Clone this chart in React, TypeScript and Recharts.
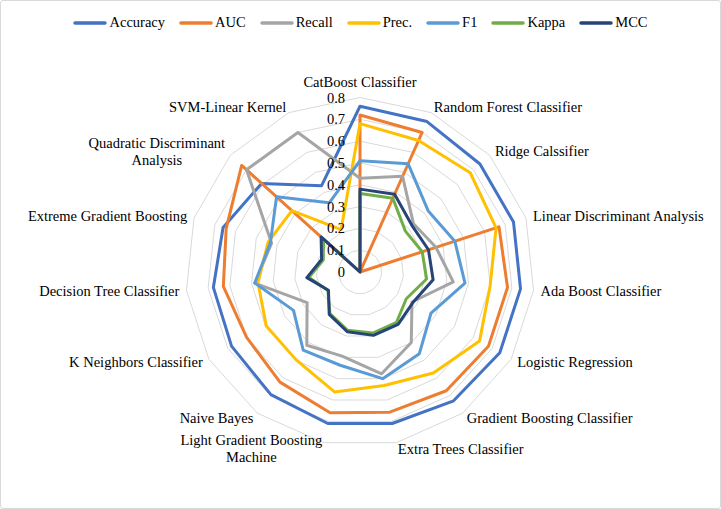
import React from 'react';
import { RadarChart, Radar, PolarGrid, PolarAngleAxis, PolarRadiusAxis, Legend } from 'recharts';

// models, clockwise from the top
const models = [
  'CatBoost Classifier',
  'Random Forest Classifier',
  'Ridge Calssifier',
  'Linear Discriminant Analysis',
  'Ada Boost Classifier',
  'Logistic Regression',
  'Gradient Boosting Classifier',
  'Extra Trees Classifier',
  'Light Gradient Boosting Machine',
  'Naive Bayes',
  'K Neighbors Classifier',
  'Decision Tree Classifier',
  'Extreme Gradient Boosting',
  'Quadratic Discriminant Analysis',
  'SVM-Linear Kernel',
];

const accuracy = [0.76, 0.755, 0.74, 0.74, 0.74, 0.74, 0.73, 0.71, 0.71, 0.695, 0.68, 0.676, 0.66, 0.607, 0.433];
const auc = [0.72, 0.7, 0, 0.67, 0.68, 0.68, 0.673, 0.657, 0.66, 0.624, 0.6, 0.63, 0.645, 0.73, 0];
const recall = [0.43, 0.48, 0.33, 0.366, 0.43, 0.275, 0.4, 0.477, 0.394, 0.415, 0.28, 0.485, 0.426, 0.7, 0.7];
const prec = [0.68, 0.66, 0.68, 0.656, 0.6, 0.633, 0.572, 0.532, 0.562, 0.498, 0.496, 0.47, 0.443, 0.42, 0.213];
const f1 = [0.51, 0.543, 0.42, 0.457, 0.484, 0.376, 0.463, 0.5, 0.437, 0.443, 0.352, 0.485, 0.432, 0.515, 0.347];
const kappa = [0.36, 0.37, 0.28, 0.3, 0.307, 0.245, 0.285, 0.286, 0.273, 0.235, 0.17, 0.235, 0.177, 0.225, 0];
const mcc = [0.38, 0.39, 0.32, 0.33, 0.337, 0.28, 0.297, 0.297, 0.28, 0.24, 0.167, 0.245, 0.185, 0.24, 0];

const radiusTicks = [0, 0.1, 0.2, 0.3, 0.4, 0.5, 0.6, 0.7, 0.8];

const series = [
  { key: 'accuracy', name: 'Accuracy', color: '#4472C4', values: accuracy },
  { key: 'auc', name: 'AUC', color: '#ED7D31', values: auc },
  { key: 'recall', name: 'Recall', color: '#A5A5A5', values: recall },
  { key: 'prec', name: 'Prec.', color: '#FFC000', values: prec },
  { key: 'f1', name: 'F1', color: '#5B9BD5', values: f1 },
  { key: 'kappa', name: 'Kappa', color: '#70AD47', values: kappa },
  { key: 'mcc', name: 'MCC', color: '#264478', values: mcc },
];

const data = models.map((model, i) => {
  const row: Record<string, string | number> = { model };
  series.forEach(s => { row[s.key] = s.values[i]; });
  return row;
});

const W = 719;
const H = 507;
const CX = 359;
const CY = 271;
const R = 174.5;
const FONT = '"Liberation Serif", "Times New Roman", serif';
const FONT_SIZE = 14.5;
const LINE_H = 17;

let ctx: CanvasRenderingContext2D | null = null;
const textWidth = (s: string) => {
  if (!ctx) ctx = document.createElement('canvas').getContext('2d');
  if (!ctx) return s.length * FONT_SIZE * 0.45;
  ctx.font = `${FONT_SIZE}px "Liberation Serif"`;
  return ctx.measureText(s).width;
};

// long names wrap onto two lines, like Excel does
const splitLabel = (s: string) => {
  if (s.length <= 28) return [s];
  const k = s.lastIndexOf(' ');
  return [s.slice(0, k), s.slice(k + 1)];
};

const AngleTick = (props: any) => {
  const { payload } = props;
  const t = ((90 - payload.coordinate) * Math.PI) / 180;
  const sn = Math.sin(t);
  const cs = Math.cos(t);
  const vx = CX + R * sn;
  const vy = CY - R * cs;
  const lines = splitLabel(String(payload.value));
  const w = Math.max(...lines.map(textWidth));
  const x = vx + sn * 7;
  let left = x - w / 2;
  if (sn > 0.1) left = x;
  else if (sn < -0.1) left = x - w;
  const yc = Math.abs(sn) < 0.1 ? vy - cs * 16 : vy - cs * 6;
  const y0 = yc - ((lines.length - 1) * LINE_H) / 2;
  return (
    <g>
      {lines.map((ln, i) => (
        <text key={i} x={left + w / 2} y={y0 + i * LINE_H} textAnchor="middle" dominantBaseline="central"
          fontFamily={FONT} fontSize={FONT_SIZE} fill="#000">
          {ln}
        </text>
      ))}
    </g>
  );
};

const RadiusTick = (props: any) => {
  const { x, y, payload } = props;
  return (
    <text x={x - 15} y={y} textAnchor="end" dominantBaseline="central" fontFamily={FONT} fontSize={FONT_SIZE} fill="#000">
      {String(Math.round(payload.value * 10) / 10)}
    </text>
  );
};

const LegendContent = () => (
  <div style={{ display: 'flex', justifyContent: 'center', alignItems: 'center', fontFamily: FONT, fontSize: FONT_SIZE, color: '#000' }}>
    {series.map(s => (
      <div key={s.key} style={{ display: 'flex', alignItems: 'center', marginLeft: 7, marginRight: 7 }}>
        <svg width={34} height={6}>
          <line x1={2} y1={3} x2={32} y2={3} stroke={s.color} strokeWidth={3.5} strokeLinecap="round" />
        </svg>
        <span style={{ marginLeft: 2 }}>{s.name}</span>
      </div>
    ))}
  </div>
);

export default function App() {
  return (
    <div style={{ position: 'absolute', left: 0, top: 0, width: 721, height: 509, boxSizing: 'border-box', border: '1px solid #d9d9d9', borderRadius: 3, background: '#fff' }}>
      <RadarChart width={W} height={H} data={data} cx={CX} cy={CY} outerRadius={R} startAngle={90} endAngle={-270}
        margin={{ top: 0, right: 0, bottom: 0, left: 0 }}>
        <PolarGrid gridType="polygon" radialLines={false} stroke="#d9d9d9" strokeWidth={1} />
        <PolarAngleAxis dataKey="model" tick={<AngleTick />} tickLine={false} axisLine={false} />
        {series.map(s => (
          <Radar key={s.key} dataKey={s.key} name={s.name} stroke={s.color} strokeWidth={3} strokeLinejoin="round"
            fill="none" fillOpacity={0} dot={false} isAnimationActive={false} />
        ))}
        <PolarRadiusAxis angle={90} type="number" domain={[0, 0.8]} allowDataOverflow allowDecimals ticks={radiusTicks}
          tickCount={9} axisLine={false} tickLine={false} tick={<RadiusTick />} />
        <Legend verticalAlign="top" content={<LegendContent />} wrapperStyle={{ top: 13, left: 0, width: W }} />
      </RadarChart>
    </div>
  );
}
